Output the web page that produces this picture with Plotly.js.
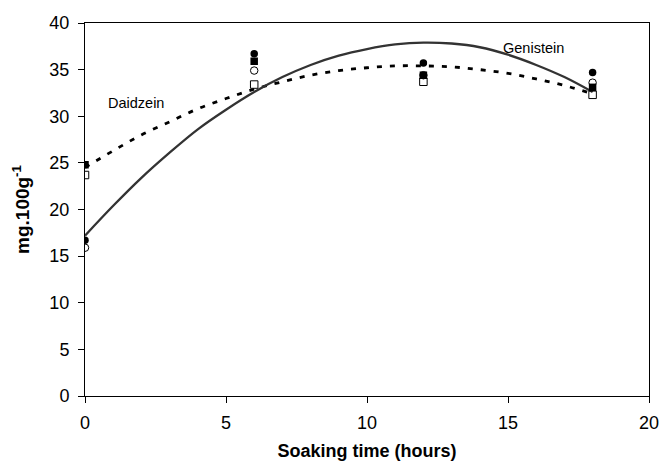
<!DOCTYPE html>
<html>
<head>
<meta charset="utf-8">
<script src="https://cdn.plot.ly/plotly-3.0.1.min.js"></script>
<style>body{margin:0;background:#fff}#chart{width:662px;height:462px}</style>
</head>
<body>
<div id="chart"></div>
<script>
// Measured points
const hours = [0, 6, 12, 18];
const genisteinA = [16.7, 36.7, 35.7, 34.7];
const genisteinB = [15.9, 34.9, 34.4, 33.6];
const daidzeinA = [24.8, 35.9, 34.4, 33.1];
const daidzeinB = [23.7, 33.4, 33.7, 32.3];

// Fitted curves
const curveHours = [0,1,2,3,4,5,6,7,8,9,10,11,12,13,14,15,16,17,18];
const genisteinFit = [17.2,20.4,23.4,26.1,28.6,30.7,32.6,34.2,35.5,36.5,37.2,37.7,37.9,37.8,37.4,36.6,35.5,34.2,32.6];
const daidzeinFit  = [24.5,26.3,28.0,29.4,30.8,31.9,32.9,33.7,34.4,34.9,35.2,35.4,35.4,35.3,35.0,34.6,34.0,33.3,32.4];

const xTicks = [0,5,10,15,20];
const yTicks = [0,5,10,15,20,25,30,35,40];

const traces = [
  {x: curveHours, y: daidzeinFit, mode:'lines', line:{color:'#000', width:2.8, dash:'5px,8px', shape:'spline'}, hoverinfo:'skip'},
  {x: curveHours, y: genisteinFit, mode:'lines', line:{color:'#333', width:2.3, shape:'spline'}, hoverinfo:'skip'},
  {x: hours, y: daidzeinA, mode:'markers', marker:{symbol:'square', size:7.5, color:'#000'}},
  {x: hours, y: daidzeinB, mode:'markers', marker:{symbol:'square-open', size:7.5, color:'#000', line:{width:1}}},
  {x: hours, y: genisteinA, mode:'markers', marker:{symbol:'circle', size:7.5, color:'#000'}},
  {x: hours, y: genisteinB, mode:'markers', marker:{symbol:'circle-open', size:7.5, color:'#000', line:{width:1}}}
];

const layout = {
  width:662, height:462,
  margin:{l:85, r:13, t:23, b:66},
  paper_bgcolor:'#fff', plot_bgcolor:'#fff',
  showlegend:false,
  font:{family:'Liberation Sans, Arial, sans-serif', color:'#000', size:18},
  xaxis:{range:[0,20], tickvals:xTicks, ticks:'outside', ticklen:6, tickcolor:'#000',
    showline:true, linecolor:'#000', linewidth:1, mirror:true, showgrid:false, zeroline:false,
    tickfont:{size:18}, ticklabelstandoff:4,
    title:{text:'<b>Soaking time (hours)</b>', font:{size:18}, standoff:12}},
  yaxis:{range:[0,40], tickvals:yTicks, ticks:'outside', ticklen:6, tickcolor:'#000',
    showline:true, linecolor:'#000', linewidth:1, mirror:true, showgrid:false, zeroline:false,
    tickfont:{size:18}, ticklabelstandoff:5,
    title:{text:'<b>mg.100g<sup>-1</sup></b>', font:{size:19}, standoff:14}},
  annotations:[
    {x:15.9, y:37.3, text:'Genistein', showarrow:false, font:{size:14.5}},
    {x:1.8, y:31.4, text:'Daidzein', showarrow:false, font:{size:14.5}}
  ]
};

Plotly.newPlot('chart', traces, layout, {displayModeBar:false, staticPlot:true});
</script>
</body>
</html>
